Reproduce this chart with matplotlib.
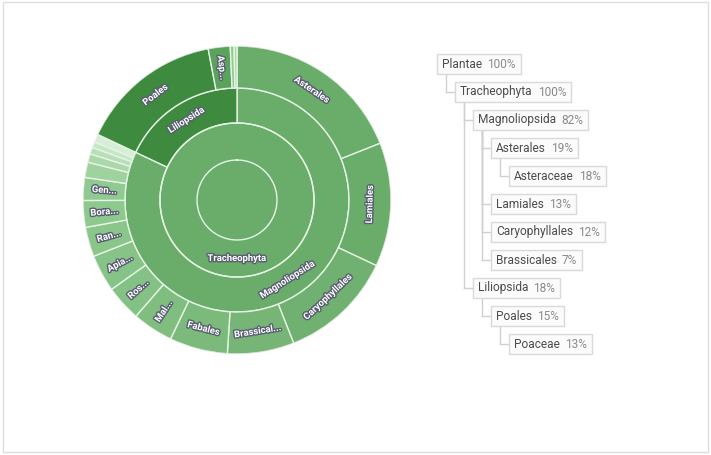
import numpy as np
import matplotlib
matplotlib.use("Agg")
import matplotlib.pyplot as plt
import matplotlib.patheffects as pe
from matplotlib.patches import Rectangle

# sunburst data (percent of total), clockwise from 12 o'clock
classes = ["Magnoliopsida", "Liliopsida"]
class_vals = [82, 18]
class_colors = ["#6aac6a", "#3e8a3e"]

magno_orders = ["Asterales", "Lamiales", "Caryophyllales", "Brassical...", "Fabales",
                "Mal...", "Ros...", "Apia...", "Ran...", "Bora...", "Gen...", "", "", "", "", ""]
magno_vals = [19, 13, 12, 7, 6.1, 4.3, 3.75, 3.9, 3.1, 2.8, 2.4, 1.6, 0.9, 0.7, 0.6, 0.85]
magno_colors = ["#6aac6a", "#6aac6a", "#70b070", "#76b576", "#7bba7b", "#80be80", "#84c184",
                "#86c386", "#8ac68a", "#8dc88d", "#90ca90", "#9ed29e", "#aad8aa", "#b8dfb8",
                "#c6e7c6", "#d6eed6"]

lili_orders = ["Poales", "Asp...", "", ""]
lili_vals = [15, 2.3, 0.4, 0.3]
lili_colors = ["#3e8a3e", "#5aa35a", "#8ecb8e", "#a9d9a9"]

# tree on the right
tree_names = ["Plantae", "Tracheophyta", "Magnoliopsida", "Asterales", "Asteraceae",
              "Lamiales", "Caryophyllales", "Brassicales", "Liliopsida", "Poales", "Poaceae"]
tree_pcts = [100, 100, 82, 19, 18, 13, 12, 7, 18, 15, 13]
tree_depth = [0, 1, 2, 3, 4, 3, 3, 3, 2, 3, 4]

W, H = 711, 455
fig = plt.figure(figsize=(W / 100, H / 100), dpi=100)
fig.patch.set_facecolor("white")

# background axes in pixel coords
tax = fig.add_axes([0, 0, 1, 1])
tax.set_xlim(0, W)
tax.set_ylim(H, 0)
tax.axis("off")
tax.add_patch(Rectangle((3, 2), W - 6, H - 5, fill=False, ec="#dedede", lw=1))

# polar axes for sunburst
cx, cy, R = 237, 200, 154
pax = fig.add_axes([(cx - R) / W, (H - cy - R) / H, 2 * R / W, 2 * R / H], projection="polar")
pax.set_theta_zero_location("N")
pax.set_theta_direction(-1)
pax.set_ylim(0, R)
pax.axis("off")

r0, r1, r2, r3 = 40, 77, 112, R
line_c = "#e6f3e6"

# full rings: Plantae + Tracheophyta
pax.bar(0, r0, width=2 * np.pi, bottom=0, color="#6aac6a", edgecolor="none")
pax.bar(0, r1 - r0, width=2 * np.pi, bottom=r0, color="#6aac6a", edgecolor="none")
tt = np.linspace(0, 2 * np.pi, 400)
pax.plot(tt, [r0] * len(tt), color=line_c, lw=1)
pax.plot(tt, [r1] * len(tt), color=line_c, lw=1)

stroke = [pe.withStroke(linewidth=2, foreground="#5a5e72")]


def label(theta_deg, r, txt, mode):
    if not txt:
        return
    if mode == "tan":
        rot = -theta_deg
    else:
        rot = 90 - theta_deg
    rot = ((rot + 90) % 180) - 90
    pax.text(np.deg2rad(theta_deg), r, txt, rotation=rot, rotation_mode="anchor",
             ha="center", va="center", color="white", fontsize=6.8, fontweight="bold",
             family="Roboto", path_effects=stroke)


def ring(vals, colors, names, start, bottom, top, tan_min):
    a = start
    for v, c, n in zip(vals, colors, names):
        w = v * 3.6
        pax.bar(np.deg2rad(a + w / 2), top - bottom, width=np.deg2rad(w), bottom=bottom,
                color=c, edgecolor=line_c, lw=1)
        label(a + w / 2, (bottom + top) / 2, n, "tan" if v >= tan_min else "rad")
        a += w


ring(class_vals, class_colors, classes, 0, r1, r2, 5)
ring(magno_vals, magno_colors, magno_orders, 0, r2, r3, 5)
ring(lili_vals, lili_colors, lili_orders, class_vals[0] * 3.6, r2, r3, 5)
label(180, (r0 + r1) / 2, "Tracheophyta", "tan")

# tree
renderer = fig.canvas.get_renderer()
x0, y0, dx, dy, bh = 437, 64, 18, 28, 20
pos = []
for i, (nm, pc, d) in enumerate(zip(tree_names, tree_pcts, tree_depth)):
    x = x0 + dx * d
    y = y0 + dy * i
    pos.append((x, y))
    t1 = tax.text(x + 5, y, nm, ha="left", va="center", fontsize=8.6, family="Roboto",
                  color="#4c4c4c", zorder=3)
    e1 = t1.get_window_extent(renderer=renderer)
    t2 = tax.text(e1.x1 + 5, y, f"{pc}%", ha="left", va="center", fontsize=8.6,
                  family="Roboto", color="#8a8a8a", zorder=3)
    e2 = t2.get_window_extent(renderer=renderer)
    tax.add_patch(Rectangle((x, y - bh / 2), e2.x1 + 5 - x, bh, fc="#fbfbfb",
                            ec="#d9d9d9", lw=1, zorder=2))

for i in range(1, len(tree_names)):
    p = max(j for j in range(i) if tree_depth[j] == tree_depth[i] - 1)
    px, py = pos[p]
    x, y = pos[i]
    tax.plot([px + 9, px + 9], [py + bh / 2, y], color="#d0d0d0", lw=1, zorder=1)
    tax.plot([px + 9, x], [y, y], color="#d0d0d0", lw=1, zorder=1)

fig.savefig("out.png", dpi=100)
